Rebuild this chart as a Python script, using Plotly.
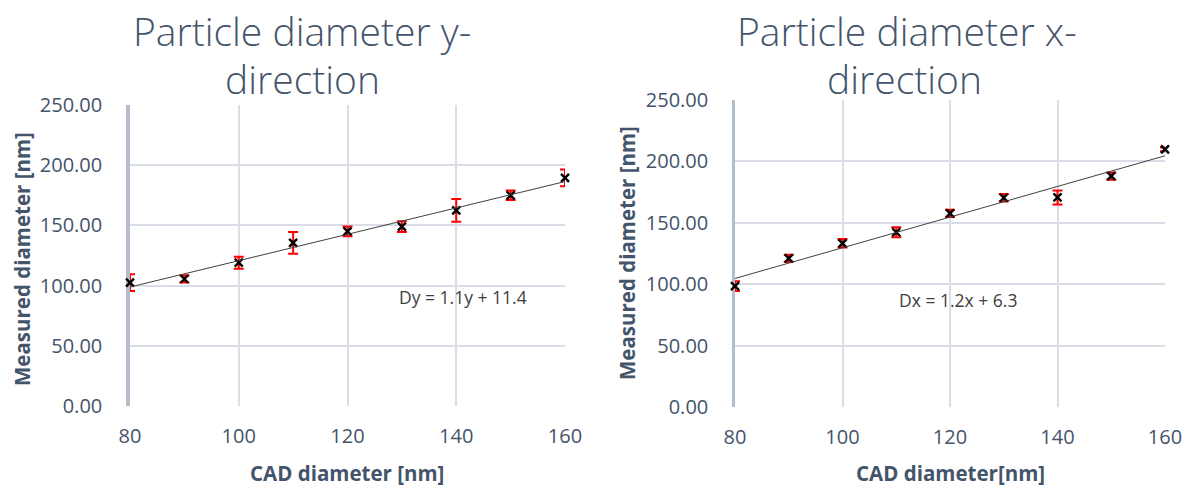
import numpy as np
import plotly.graph_objects as go

cad = [80, 90, 100, 110, 120, 130, 140, 150, 160]
dy_vals = [102.5, 105.5, 119, 135.5, 145, 149, 162.5, 175, 189.5]
dy_err = [7, 3, 5, 9, 4, 4.5, 9.5, 4, 7]
dx_vals = [98.5, 121, 133.3, 142.3, 157.7, 170.4, 170.7, 188, 209.8]
dx_err = [4, 3, 3.5, 4, 3, 3, 5.7, 3, 1.5]

title_left = ["Particle diameter y-", "direction"]
title_right = ["Particle diameter x-", "direction"]
eq_left = "Dy = 1.1y + 11.4"
eq_right = "Dx = 1.2x + 6.3"
ytitle = "Measured diameter [nm]"
xtitle_left = "CAD diameter [nm]"
xtitle_right = "CAD diameter[nm]"

W, H = 1190, 490
TXT = "#44546A"
GRID = "#D9DEE6"
AXL = "#B4BDCC"

fig = go.Figure()

def add_series(vals, errs, xa, ya):
    fig.add_trace(go.Scatter(
        x=cad, y=vals, mode="markers", xaxis=xa, yaxis=ya,
        marker=dict(symbol="x-thin", size=8, color="black",
                    line=dict(color="black", width=2.4)),
        error_y=dict(type="data", array=errs, visible=True,
                     color="#FF0000", thickness=2, width=5),
        showlegend=False, hoverinfo="x+y", cliponaxis=False))
    k, b = np.polyfit(cad, vals, 1)
    xs = [cad[0], cad[-1]]
    fig.add_trace(go.Scatter(
        x=xs, y=[k * v + b for v in xs], mode="lines", xaxis=xa, yaxis=ya,
        line=dict(color="#404040", width=1), showlegend=False, hoverinfo="skip"))

add_series(dy_vals, dy_err, "x", "y")
add_series(dx_vals, dx_err, "x2", "y2")

def px(v):
    return v / W

def py(v):
    return 1 - v / H

tickfont = dict(family="Open Sans", size=20, color=TXT)
xcommon = dict(range=[80, 160], dtick=20, showgrid=True, gridcolor=GRID, gridwidth=2,
               zeroline=False, tickfont=tickfont, ticks="", ticklabelstandoff=16,
               showline=False, fixedrange=True, automargin=False, layer="below traces")
ycommon = dict(range=[0, 250], dtick=50, tickformat=".2f", showgrid=True,
               gridcolor=GRID, gridwidth=2, zeroline=False, tickfont=tickfont,
               ticks="", ticklabelstandoff=20, showline=True, linecolor=AXL,
               fixedrange=True, automargin=False, layer="below traces")

fig.update_layout(
    width=W, height=H, margin=dict(l=0, r=0, t=0, b=0, autoexpand=False),
    paper_bgcolor="white", plot_bgcolor="white",
    xaxis=dict(domain=[px(130), px(565)], anchor="y", **xcommon),
    yaxis=dict(domain=[py(406), py(105)], anchor="x", linewidth=3.5, **ycommon),
    xaxis2=dict(domain=[px(735), px(1165)], anchor="y2", **xcommon),
    yaxis2=dict(domain=[py(407), py(100)], anchor="x2", linewidth=2.5, **ycommon),
)

titlefont = dict(family="Open Sans", size=39, color=TXT, weight=300)
axfont = dict(family="Open Sans", size=20.5, color=TXT, weight="bold")
eqfont = dict(family="Open Sans", size=17.5, color="#404040")

ann = [
    dict(text=title_left[0], x=px(302), y=py(31), font=titlefont),
    dict(text=title_left[1], x=px(302), y=py(79), font=titlefont),
    dict(text=title_right[0], x=px(907), y=py(31), font=titlefont),
    dict(text=title_right[1], x=px(904), y=py(79), font=titlefont),
    dict(text=ytitle, x=px(22), y=py(259), font=axfont, textangle=-90),
    dict(text=ytitle, x=px(627), y=py(253), font=axfont, textangle=-90),
    dict(text=xtitle_left, x=px(347), y=py(473), font=axfont),
    dict(text=xtitle_right, x=px(950), y=py(473), font=axfont),
    dict(text=eq_left, x=px(397), y=py(297), font=eqfont, xanchor="left"),
    dict(text=eq_right, x=px(897), y=py(300), font=eqfont, xanchor="left"),
]
for a in ann:
    a.setdefault("xanchor", "center")
    fig.add_annotation(xref="paper", yref="paper", showarrow=False,
                       yanchor="middle", **a)

fig.write_html("out.html", config={"displayModeBar": False},
               post_script="document.body.style.margin='0px';document.body.style.overflow='hidden';")
